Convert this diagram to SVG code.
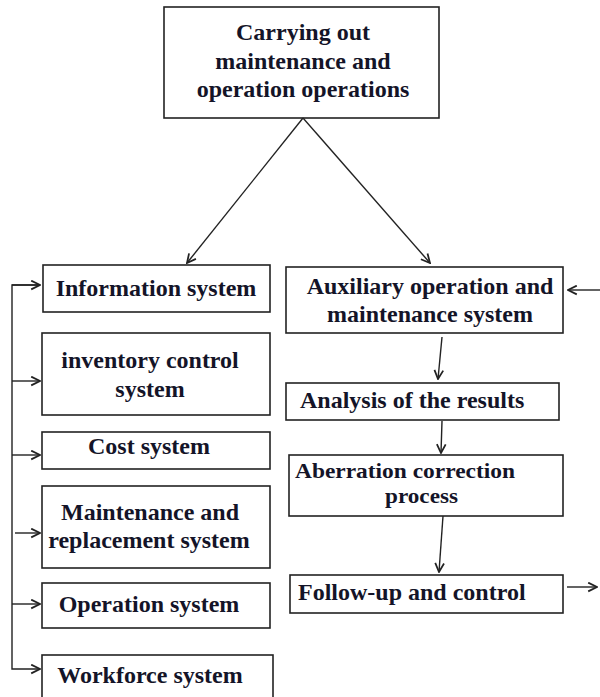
<svg xmlns="http://www.w3.org/2000/svg" width="600" height="697" viewBox="0 0 600 697">
<style>
.box{fill:#fff;stroke:#222;stroke-width:1.6}
.t{font-family:"Liberation Serif","Times New Roman",serif;font-weight:bold;font-size:24px;fill:#141428}
.s{font-size:22px}
.c{text-anchor:middle}
.ln{fill:none;stroke:#222;stroke-width:1.4}
</style>
<defs>
<marker id="ah" viewBox="0 0 10 10" refX="9" refY="5" markerWidth="11" markerHeight="11" markerUnits="userSpaceOnUse" orient="auto">
<path d="M1,1 L9,5 L1,9" fill="none" stroke="#222" stroke-width="1.6"/>
</marker>
</defs>
<rect width="600" height="697" fill="#fff"/>
<g id="top">
<rect class="box" x="164" y="7" width="275" height="111" stroke-width="2.4"/>
<text class="t c" x="303" y="40">Carrying out</text>
<text class="t c" x="303" y="69">maintenance and</text>
<text class="t c" x="303" y="97">operation operations</text>
</g>
<g id="info"><rect class="box" x="43" y="265" width="227" height="47"/><text class="t c" x="156" y="296">Information system</text></g>
<g id="inventory"><rect class="box" x="42" y="333" width="228" height="82"/><text class="t c" x="150" y="368">inventory control</text><text class="t c" x="150" y="397">system</text></g>
<g id="cost"><rect class="box" x="42" y="432" width="228" height="37"/><text class="t c" x="149" y="454">Cost system</text></g>
<g id="maint"><rect class="box" x="42" y="486" width="228" height="82"/><text class="t c" x="150" y="520">Maintenance and</text><text class="t c" x="149" y="548">replacement system</text></g>
<g id="operation"><rect class="box" x="42" y="583" width="228" height="45"/><text class="t c" x="149" y="612">Operation system</text></g>
<g id="workforce"><rect class="box" x="42" y="655" width="231" height="50"/><text class="t c" x="150" y="683">Workforce system</text></g>
<g id="aux"><rect class="box" x="286" y="267" width="277" height="66"/><text class="t c" x="430" y="294">Auxiliary operation and</text><text class="t c" x="430" y="322">maintenance system</text></g>
<g id="analysis"><rect class="box" x="286" y="383" width="273" height="37"/><text class="t" x="300" y="408">Analysis of the results</text></g>
<g id="aberration"><rect class="box" x="289" y="455" width="274" height="61"/><text class="t s" x="295" y="478" textLength="220" lengthAdjust="spacingAndGlyphs">Aberration correction</text><text class="t s" x="385" y="503" textLength="73" lengthAdjust="spacingAndGlyphs">process</text></g>
<g id="followup"><rect class="box" x="290" y="575" width="273" height="38"/><text class="t" x="298" y="600">Follow-up and control</text></g>
<g id="connectors">
<line class="ln" x1="303" y1="118" x2="187" y2="263" marker-end="url(#ah)"/>
<line class="ln" x1="303" y1="118" x2="430" y2="263" marker-end="url(#ah)"/>
<polyline class="ln" points="40,285 12,285 12,669 40,669" marker-end="url(#ah)"/>
<line class="ln" x1="12" y1="285" x2="40" y2="285" marker-end="url(#ah)"/>
<line class="ln" x1="12" y1="381" x2="40" y2="381" marker-end="url(#ah)"/>
<line class="ln" x1="12" y1="455" x2="40" y2="455" marker-end="url(#ah)"/>
<line class="ln" x1="15" y1="533" x2="40" y2="533" marker-end="url(#ah)"/>
<line class="ln" x1="12" y1="604" x2="40" y2="604" marker-end="url(#ah)"/>
<line class="ln" x1="600" y1="290" x2="568" y2="290" marker-end="url(#ah)"/>
<line class="ln" x1="442" y1="337" x2="438" y2="379" marker-end="url(#ah)"/>
<line class="ln" x1="442" y1="421" x2="441" y2="453" marker-end="url(#ah)"/>
<line class="ln" x1="443" y1="516" x2="439" y2="572" marker-end="url(#ah)"/>
<line class="ln" x1="567" y1="587" x2="597" y2="587" marker-end="url(#ah)"/>
</g>
</svg>
